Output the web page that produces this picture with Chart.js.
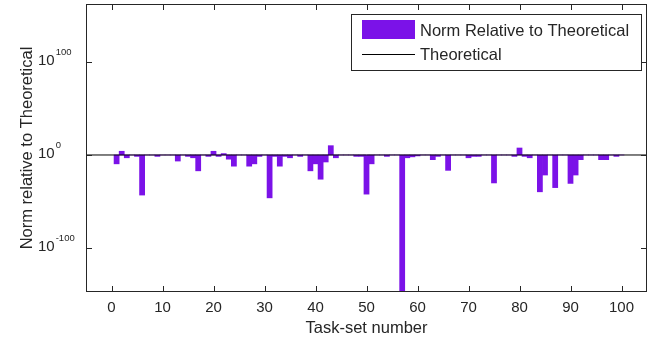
<!DOCTYPE html>
<html>
<head>
<meta charset="utf-8">
<script src="https://cdn.jsdelivr.net/npm/chart.js@4.4.1/dist/chart.umd.min.js"></script>
<style>
  html, body { margin: 0; padding: 0; background: #fff; }
  #wrap { width: 664px; height: 344px; }
</style>
</head>
<body>
<div id="wrap"><canvas id="chart" width="664" height="344"></canvas></div>
<script>
// task-set numbers (x axis)
const taskSets = Array.from({ length: 100 }, (_, i) => i + 1);

// log10(norm / theoretical) per task-set
const normExponents = [
  -9.5, 4, -3, 0, -1.5, -43, 0, 0, -1.5, 0,
  0, 0, -6.5, 0, -1.5, -3, -17, 0, -1.5, 4,
  -1.5, 1.5, -4.5, -12, 0, 0, -12, -9.5, -1.5, 0,
  -46, -1.5, -12, -1.5, -3, 0, -1.5, 0, -17, -9.5,
  -26, -7.5, 10, -3, 0, 0, 0, -1.5, -1.5, -42,
  -9.5, 0, 0, -1.5, 0, 0, -200, -3, -2, -1,
  0, 0, -5, -1.5, 0, -16.5, 0, 0, 0, -3,
  -1.5, -1.5, 0, 0, -30, 0, 0, 0, -1.5, 7.5,
  -1.5, -3, 0, -39.5, -21.5, 0, -35, 0, 0, -30.5,
  -21.5, -5, 0, 0, 0, -5, -5, 0, -1.5, 0
];

// theoretical reference = 10^0
const theoreticalExponent = 0;

// axis limits and ticks
const xRange = [-5, 105];
const yRange = [-147, 162];
const xTicks = [0, 10, 20, 30, 40, 50, 60, 70, 80, 90, 100];
const yTickExponents = [-100, 0, 100];

const FONT = "'Liberation Sans', Arial, sans-serif";
const TEXT = '#262626';
const BAR = '#7b12e8';

// MATLAB-like box, inward ticks, 10^n labels and legend
const matlabAxes = {
  id: 'matlabAxes',
  afterDatasetsDraw(chart) {
    const { ctx, chartArea: a, scales: { x, y } } = chart;
    ctx.save();
    ctx.strokeStyle = TEXT;
    ctx.lineWidth = 1;
    ctx.strokeRect(a.left + 0.5, a.top + 0.5, a.right - a.left - 1, a.bottom - a.top - 1);

    ctx.beginPath();
    xTicks.forEach(v => {
      const px = Math.round(x.getPixelForValue(v)) + 0.5;
      ctx.moveTo(px, a.bottom); ctx.lineTo(px, a.bottom - 6);
      ctx.moveTo(px, a.top); ctx.lineTo(px, a.top + 6);
    });
    yTickExponents.forEach(v => {
      const py = Math.round(y.getPixelForValue(v)) + 0.5;
      ctx.moveTo(a.left, py); ctx.lineTo(a.left + 6, py);
      ctx.moveTo(a.right, py); ctx.lineTo(a.right - 6, py);
    });
    ctx.stroke();

    // y tick labels as 10 with a superscript exponent
    ctx.fillStyle = TEXT;
    ctx.textBaseline = 'middle';
    ctx.textAlign = 'left';
    yTickExponents.forEach(v => {
      const py = y.getPixelForValue(v);
      ctx.font = '15px ' + FONT;
      ctx.fillText('10', 38, py - 1);
      const w = ctx.measureText('10').width;
      ctx.font = '9.5px ' + FONT;
      ctx.fillText(String(v), 38 + w + 1, py - 9.5);
    });

    // legend box
    const ds = chart.data.datasets;
    const lx = 351, ly = 14, lw = 290, lh = 56;
    ctx.fillStyle = '#fff';
    ctx.fillRect(lx, ly, lw, lh);
    ctx.strokeRect(lx + 0.5, ly + 0.5, lw, lh);
    ctx.fillStyle = BAR;
    ctx.fillRect(362, 20, 53, 19);
    ctx.strokeStyle = '#000';
    ctx.beginPath();
    ctx.moveTo(362, 54.5); ctx.lineTo(415, 54.5);
    ctx.stroke();
    ctx.fillStyle = TEXT;
    ctx.font = '16.5px ' + FONT;
    ctx.fillText(ds[1].label, 420, 31);
    ctx.fillText(ds[0].label, 420, 55);
    ctx.restore();
  }
};

new Chart(document.getElementById('chart'), {
  data: {
    datasets: [
      {
        type: 'line',
        label: 'Theoretical',
        data: xRange.map(v => ({ x: v, y: theoreticalExponent })),
        borderColor: '#000',
        borderWidth: 1,
        pointRadius: 0,
        order: 0
      },
      {
        type: 'bar',
        label: 'Norm Relative to Theoretical',
        data: taskSets.map((t, i) => ({ x: t, y: normExponents[i] })),
        backgroundColor: BAR,
        borderWidth: 0,
        barPercentage: 1,
        categoryPercentage: 1,
        base: theoreticalExponent,
        order: 1
      }
    ]
  },
  options: {
    responsive: false,
    animation: false,
    layout: { padding: { top: 4, right: 17, left: 0, bottom: 0 } },
    plugins: { legend: { display: false }, tooltip: { enabled: false } },
    scales: {
      x: {
        type: 'linear',
        offset: false,
        min: xRange[0],
        max: xRange[1],
        afterBuildTicks: s => { s.ticks = xTicks.map(v => ({ value: v })); },
        afterFit: s => { s.height = 52; },
        grid: { display: false },
        border: { display: false },
        ticks: { color: TEXT, font: { family: FONT, size: 15 }, padding: -1, maxRotation: 0 },
        title: { display: true, text: 'Task-set number', color: TEXT, font: { family: FONT, size: 16.5 }, padding: { top: 0, bottom: 6 } }
      },
      y: {
        type: 'linear',
        min: yRange[0],
        max: yRange[1],
        afterBuildTicks: s => { s.ticks = yTickExponents.map(v => ({ value: v })); },
        afterFit: s => { s.width = 86; },
        grid: { display: false },
        border: { display: false },
        ticks: { display: false },
        title: { display: true, text: 'Norm relative to Theoretical', color: TEXT, font: { family: FONT, size: 16.5 }, padding: { top: 18, bottom: 0 } }
      }
    }
  },
  plugins: [matlabAxes]
});
</script>
</body>
</html>
